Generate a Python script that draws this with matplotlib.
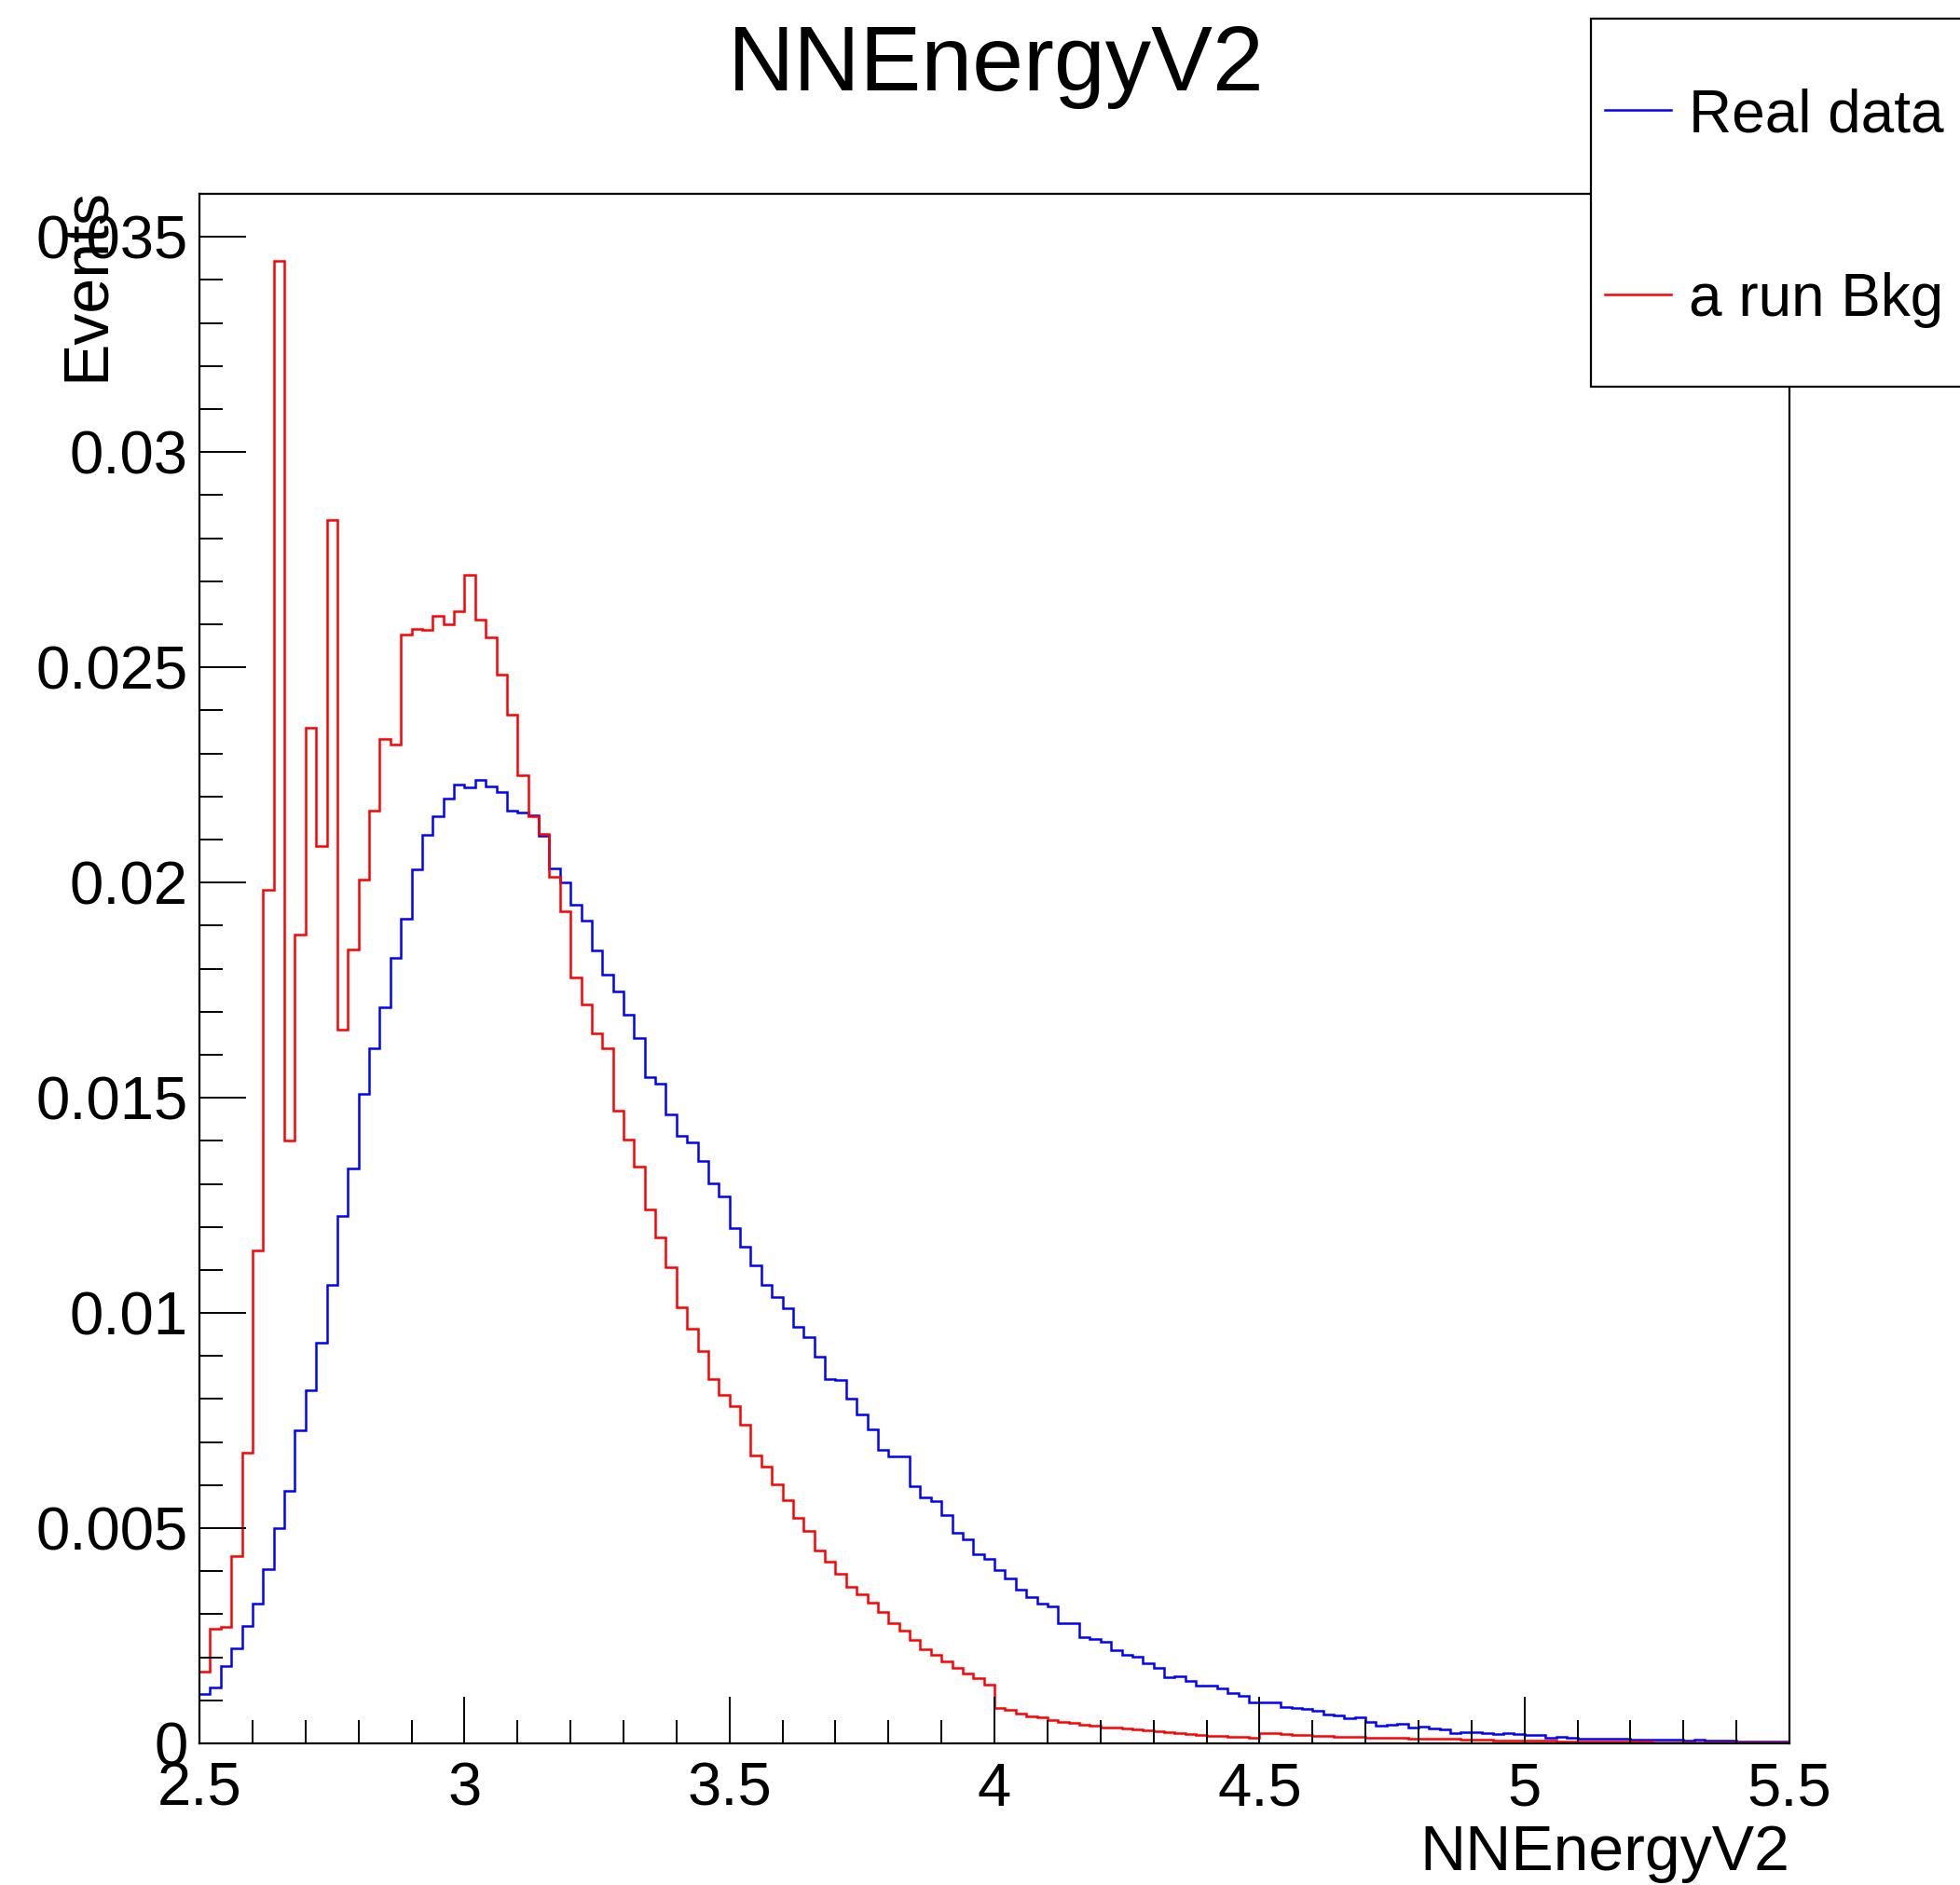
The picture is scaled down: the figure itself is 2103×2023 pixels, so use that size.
import matplotlib
matplotlib.use('Agg')
import matplotlib.pyplot as plt
import numpy as np
from matplotlib.lines import Line2D
from matplotlib.patches import Rectangle
from matplotlib.ticker import MultipleLocator, FormatStrFormatter

plt.rcParams['font.family'] = ['Liberation Sans', 'DejaVu Sans']

# histogram binning: 150 bins of 0.02 between 2.5 and 5.5
x_lo, x_hi, n_bins = 2.5, 5.5, 150

title = 'NNEnergyV2'
x_title = 'NNEnergyV2'
y_title = 'Events'
labels = ['Real data', 'a run Bkg']
colors = ['#0000ff', '#ff0000']

# normalised bin contents
real_data = [
    0.00114, 0.0013, 0.0018, 0.0022, 0.00273, 0.00325, 0.00405, 0.0050, 0.00586, 0.00727,
    0.0082, 0.00932, 0.01066, 0.01225, 0.01336, 0.01509, 0.01614, 0.01711, 0.01825, 0.01916,
    0.0203, 0.02111, 0.02155, 0.02195, 0.02228,
    0.0222, 0.02239, 0.02224, 0.02211, 0.02166, 0.02162, 0.02157, 0.02108, 0.02032, 0.0200,
    0.01949, 0.01911, 0.01842, 0.01786, 0.01746, 0.01692, 0.01638, 0.01547, 0.01533, 0.01462,
    0.01411, 0.01397, 0.01354, 0.01301, 0.0127,
    0.01197, 0.01154, 0.0111, 0.01065, 0.01036, 0.01012, 0.00967, 0.00944, 0.00899, 0.00846,
    0.00845, 0.00801, 0.00765, 0.0073, 0.00682, 0.00666, 0.00667, 0.00598, 0.00572, 0.00562,
    0.0053, 0.00489, 0.00474, 0.0044, 0.00429,
    0.00402, 0.00383, 0.00357, 0.00339, 0.00324, 0.00318, 0.0028, 0.00279, 0.00247, 0.00243,
    0.00236, 0.00217, 0.00205, 0.00202, 0.00186, 0.00175, 0.00153, 0.00156, 0.00145, 0.00135,
    0.00135, 0.00127, 0.00118, 0.00111, 0.00096,
    0.00095, 0.00095, 0.00085, 0.00082, 0.0008, 0.00075, 0.00068, 0.00065, 0.00058, 0.00061,
    0.00049, 0.00041, 0.00043, 0.00046, 0.00038, 0.0004, 0.00035, 0.00032, 0.00025, 0.00026,
    0.00027, 0.00024, 0.00022, 0.00025, 0.00022,
    0.0002, 0.00019, 0.00013, 0.00015, 0.00014, 0.00012, 0.00011, 0.00011, 0.0001, 0.0001,
    0.00009, 0.00009, 0.00009, 0.00008, 0.00008, 0.00007, 0.00008, 0.00006, 0.00006, 0.00006,
    0.00005, 0.00004, 0.00005, 0.00005, 0.00004,
]
bkg_run = [
    0.00166, 0.00266, 0.0027, 0.00436, 0.00675, 0.01145, 0.01984, 0.03445, 0.0140, 0.0188,
    0.02359, 0.02084, 0.02843, 0.01659, 0.01845, 0.02007, 0.02168, 0.02334, 0.0232, 0.02575,
    0.02589, 0.02586, 0.0262, 0.0260, 0.0263,
    0.02714, 0.02611, 0.0257, 0.02483, 0.02389, 0.0225, 0.02153, 0.02112, 0.02014, 0.01933,
    0.01779, 0.01717, 0.0165, 0.01616, 0.01469, 0.01402, 0.01339, 0.0124, 0.01176, 0.01107,
    0.01013, 0.00963, 0.00912, 0.00847, 0.0081,
    0.00783, 0.00741, 0.0067, 0.00643, 0.00602, 0.00565, 0.00524, 0.00494, 0.00449, 0.00423,
    0.00395, 0.00364, 0.00346, 0.00328, 0.00306, 0.00279, 0.00261, 0.00241, 0.00218, 0.00205,
    0.0019, 0.00176, 0.00162, 0.00151, 0.00137,
    0.00082, 0.00078, 0.0007, 0.00064, 0.0006, 0.00055, 0.00051, 0.00047, 0.00043, 0.00041,
    0.00038, 0.00036, 0.00035, 0.00033, 0.00031, 0.00029, 0.00026, 0.00024, 0.00021, 0.0002,
    0.00018, 0.00017, 0.00015, 0.00015, 0.00013,
    0.00025, 0.00023, 0.00022, 0.0002, 0.00019, 0.00018, 0.00017, 0.00016, 0.00016, 0.00015,
    0.00014, 0.00013, 0.00013, 0.00014, 0.00012, 0.00012, 0.00011, 0.0001, 0.0001, 0.00009,
    0.00008, 0.00008, 0.00007, 0.00007, 0.00007,
    0.00006, 0.00006, 0.00006, 0.00005, 0.00005, 0.00005, 0.00005, 0.00004, 0.00004, 0.00004,
    0.00004, 0.00004, 0.00003, 0.00003, 0.00003, 0.00003, 0.00003, 0.00003, 0.00002, 0.00002,
    0.00002, 0.00002, 0.00002, 0.00002, 0.00002,
]

edges = np.linspace(x_lo, x_hi, n_bins + 1)

fig = plt.figure(figsize=(21.03, 20.23), dpi=100)
ax = fig.add_axes([0.1018, 0.0751, 0.8112, 0.8221])

for values, color in zip([real_data, bkg_run], colors):
    ax.stairs(values, edges, baseline=None, color=color, linewidth=1.8)

ax.set_xlim(x_lo, x_hi)
ax.set_ylim(0, 0.036)

# ROOT-like axes: inward ticks on bottom/left only
ax.xaxis.set_major_locator(MultipleLocator(0.5))
ax.xaxis.set_minor_locator(MultipleLocator(0.1))
ax.yaxis.set_major_locator(MultipleLocator(0.005))
ax.yaxis.set_minor_locator(MultipleLocator(0.001))
ax.xaxis.set_major_formatter(FormatStrFormatter('%g'))
ax.yaxis.set_major_formatter(FormatStrFormatter('%g'))
ax.tick_params(which='both', direction='in', width=1.4, labelsize=47)
ax.tick_params(which='major', length=36)
ax.tick_params(which='minor', length=18)
ax.tick_params(axis='x', which='major', pad=14)
ax.tick_params(axis='y', which='major', pad=9)
for spine in ax.spines.values():
    spine.set_linewidth(1.6)

fig.text(0.508, 0.9522, title, ha='center', va='baseline', fontsize=71)
fig.text(0.913, 0.0079, x_title, ha='right', va='baseline', fontsize=49)
fig.text(0.044, 0.9005, y_title, ha='center', va='top', rotation=90, fontsize=49)

# legend box in the top right corner, partly outside the figure
box = Rectangle((0.8116, 0.7949), 0.3, 0.1952, transform=fig.transFigure,
                facecolor='white', edgecolor='black', linewidth=1.6,
                clip_on=False, zorder=10)
fig.patches.append(box)
for label, color, y in zip(labels, colors, [0.9418, 0.8439]):
    fig.lines.append(Line2D([0.8188, 0.8526], [y, y], transform=fig.transFigure,
                            color=color, linewidth=1.8, zorder=11))
    fig.text(0.8615, y - 0.0115, label, ha='left', va='baseline', fontsize=46, zorder=11)

fig.savefig('out.png', dpi=100)
